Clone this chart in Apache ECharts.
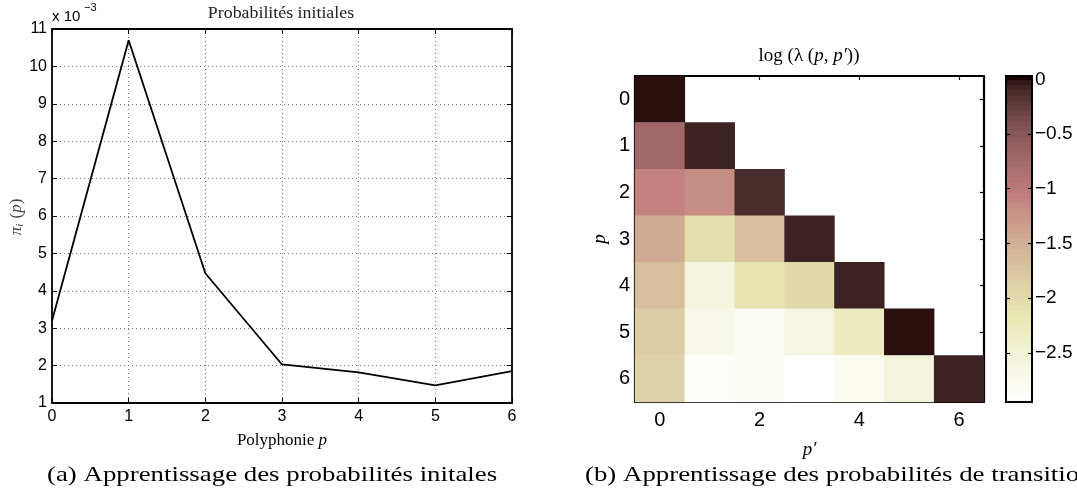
<!DOCTYPE html>
<html><head><meta charset="utf-8">
<script src="https://cdn.jsdelivr.net/npm/echarts@6/dist/echarts.min.js"></script>
<style>html,body{margin:0;padding:0;background:#fff}#c{width:1077px;height:493px}</style>
</head><body><div id="c"></div>
<script>
// ---- data ----
const polyphonie = [0, 1, 2, 3, 4, 5, 6];
const piInitial = [3.2, 10.7, 4.47, 2.03, 1.82, 1.47, 1.85]; // x 10^-3
const pLabels = ['0', '1', '2', '3', '4', '5', '6'];
// log(lambda(p, p')) rows p = 0..6, columns p' = 0..p
const logLambda = [
  [0],
  [-0.71, -0.05],
  [-1.09, -1.18, -0.10],
  [-1.45, -2.06, -1.70, -0.05],
  [-1.66, -2.60, -2.13, -1.98, -0.05],
  [-1.83, -2.69, -2.85, -2.62, -2.30, 0],
  [-1.88, -2.88, -2.85, -2.95, -2.80, -2.57, -0.05]
];
const colorbarTicks = [0, -0.5, -1, -1.5, -2, -2.5];
const cMin = -2.95, cMax = 0.03;

// ---- MATLAB "pink" colormap ----
function pinkMap(m) {
  const n = Math.floor(3 / 8 * m), out = [];
  for (let i = 0; i < m; i++) {
    const k = i + 1, g = i / (m - 1);
    const hr = k <= n ? k / n : 1;
    const hg = k <= n ? 0 : (k <= 2 * n ? (k - n) / n : 1);
    const hb = k <= 2 * n ? 0 : (k - 2 * n) / (m - 2 * n);
    const f = h => Math.round(255 * Math.sqrt((2 * g + h) / 3));
    out.push('rgb(' + f(hr) + ',' + f(hg) + ',' + f(hb) + ')');
  }
  return out;
}
const pink = pinkMap(64);
const lowToHigh = pink.slice().reverse();
const stops = [];
pink.forEach((c, k) => { stops.push({offset: k / 64, color: c}); stops.push({offset: (k + 1) / 64, color: c}); });

const heatData = [];
logLambda.forEach((row, p) => row.forEach((v, q) => heatData.push([q, p, v])));

const SANS = 'Liberation Sans, Arial, Helvetica, sans-serif';
const SERIF = 'Liberation Serif, DejaVu Serif, serif';
const black = '#000';

const chart = echarts.init(document.getElementById('c'), null, {renderer: 'canvas'});
const lineAxisCommon = {
  axisLine: {show: true, onZero: false, lineStyle: {color: black, width: 1.8}},
  axisTick: {show: true, inside: true, length: 5, lineStyle: {color: black, width: 1}}
};
chart.setOption({
  animation: false,
  backgroundColor: '#fff',
  grid: [
    {left: 52, top: 29, width: 460, height: 374},
    {left: 635, top: 76, width: 349, height: 326},
    {left: 1006, top: 76, width: 26, height: 326, show: true, borderColor: black, borderWidth: 2,
     backgroundColor: new echarts.graphic.LinearGradient(0, 0, 0, 1, stops)}
  ],
  xAxis: [
    Object.assign({gridIndex: 0, type: 'value', min: 0, max: 6, interval: 1, position: 'bottom',
      axisLabel: {fontFamily: SANS, fontSize: 16, color: black, margin: 6},
      splitLine: {show: true, lineStyle: {color: '#777', type: [1, 3], width: 1}},
      name: '{n|Polyphonie }{i|p}', nameLocation: 'middle', nameGap: 29,
      nameTextStyle: {rich: {n: {fontFamily: SERIF, fontSize: 17, color: black}, i: {fontFamily: SERIF, fontStyle: 'italic', fontSize: 17, color: black}}}
    }, lineAxisCommon),
    Object.assign({gridIndex: 0, type: 'value', min: 0, max: 6, interval: 1, position: 'top',
      axisLabel: {show: false}, splitLine: {show: false}}, lineAxisCommon),
    {gridIndex: 1, type: 'category', data: pLabels, position: 'bottom',
      axisLine: {show: true, lineStyle: {color: black, width: 2.2}},
      axisTick: {show: true, inside: true, length: 4, alignWithLabel: true, interval: 1, lineStyle: {color: black, width: 1.2}},
      axisLabel: {interval: 1, fontFamily: SANS, fontSize: 20, color: black, margin: 8},
      splitLine: {show: false},
      name: "p′", nameLocation: 'middle', nameGap: 38,
      nameTextStyle: {fontFamily: SERIF, fontStyle: 'italic', fontSize: 19, color: black}},
    {gridIndex: 1, type: 'category', data: pLabels, position: 'top',
      axisLine: {show: true, lineStyle: {color: black, width: 2.2}},
      axisTick: {show: true, inside: true, length: 4, alignWithLabel: true, interval: 1, lineStyle: {color: black, width: 1.2}},
      axisLabel: {show: false}, splitLine: {show: false}},
    {gridIndex: 2, type: 'category', data: [''], show: false}
  ],
  yAxis: [
    Object.assign({gridIndex: 0, type: 'value', min: 1, max: 11, interval: 1, position: 'left',
      axisLabel: {fontFamily: SANS, fontSize: 16, color: black, margin: 5},
      splitLine: {show: true, lineStyle: {color: '#777', type: [1, 3], width: 1}}}, lineAxisCommon),
    Object.assign({gridIndex: 0, type: 'value', min: 1, max: 11, interval: 1, position: 'right',
      axisLabel: {show: false}, splitLine: {show: false}}, lineAxisCommon),
    {gridIndex: 1, type: 'category', data: pLabels, inverse: true, position: 'left',
      axisLine: {show: true, lineStyle: {color: black, width: 2.2}},
      axisTick: {show: true, inside: true, length: 4, alignWithLabel: true, lineStyle: {color: black, width: 1.2}},
      axisLabel: {fontFamily: SANS, fontSize: 20, color: black, margin: 5},
      splitLine: {show: false},
      name: 'p', nameLocation: 'middle', nameGap: 26,
      nameTextStyle: {fontFamily: SERIF, fontStyle: 'italic', fontSize: 19, color: black}},
    {gridIndex: 1, type: 'category', data: pLabels, inverse: true, position: 'right',
      axisLine: {show: true, lineStyle: {color: black, width: 2.2}},
      axisTick: {show: true, inside: true, length: 4, alignWithLabel: true, lineStyle: {color: black, width: 1.2}},
      axisLabel: {show: false}, splitLine: {show: false}},
    {gridIndex: 2, type: 'value', min: cMin, max: cMax, position: 'left',
      axisLine: {show: false}, splitLine: {show: false}, axisLabel: {show: false},
      axisTick: {show: true, inside: true, length: 4, customValues: colorbarTicks, lineStyle: {color: black, width: 1.2}}},
    {gridIndex: 2, type: 'value', min: cMin, max: cMax, position: 'right',
      axisLine: {show: false}, splitLine: {show: false},
      axisLabel: {show: true, customValues: colorbarTicks, fontFamily: SANS, fontSize: 19, color: black, margin: 3,
        formatter: v => String(v).replace('-', '−')},
      axisTick: {show: true, inside: true, length: 4, customValues: colorbarTicks, lineStyle: {color: black, width: 1.2}}}
  ],
  visualMap: [{show: false, type: 'continuous', seriesIndex: 1, min: cMin, max: cMax, inRange: {color: lowToHigh}}],
  series: [
    {type: 'line', xAxisIndex: 0, yAxisIndex: 0, showSymbol: false, symbol: 'none',
      lineStyle: {color: black, width: 1.8}, data: polyphonie.map((x, i) => [x, piInitial[i]])},
    {type: 'heatmap', xAxisIndex: 2, yAxisIndex: 2, data: heatData, itemStyle: {borderWidth: 0}}
  ],
  graphic: [
    {type: 'text', left: 52, top: 9, style: {text: 'x 10', font: '15px ' + SANS, fill: black}},
    {type: 'text', left: 84, top: 2, style: {text: '−3', font: '11px ' + SANS, fill: black}},
    {type: 'text', x: 281, y: 14, scaleX: 1.05, style: {text: 'Probabilités initiales', font: '17px ' + SERIF, fill: '#222', align: 'center', verticalAlign: 'middle'}},
    {type: 'text', x: 17, y: 217, rotation: Math.PI / 2,
      style: {text: '{i|π}{s|i}{n| (}{i|p}{n|)}', align: 'center', verticalAlign: 'middle',
        rich: {i: {font: 'italic 17px ' + SERIF, fill: '#444'}, n: {font: '17px ' + SERIF, fill: '#444'},
               s: {font: 'italic 11px ' + SERIF, fill: '#444', padding: [7, 1, 0, 0]}}}},
    {type: 'text', x: 809, y: 56, style: {text: '{r|log (λ (}{i|p}{r|, }{i|p′}{r|))}', align: 'center', verticalAlign: 'middle',
      rich: {r: {font: '19px ' + SERIF, fill: black}, i: {font: 'italic 19px ' + SERIF, fill: black}}}},
    {type: 'text', x: 47, y: 475, scaleX: 1.22, style: {text: '(a) Apprentissage des probabilités initales', font: '22px ' + SERIF, fill: black, verticalAlign: 'middle'}},
    {type: 'text', x: 585, y: 475, scaleX: 1.22, style: {text: '(b) Apprentissage des probabilités de transitions', font: '22px ' + SERIF, fill: black, verticalAlign: 'middle'}}
  ]
});
</script></body></html>
